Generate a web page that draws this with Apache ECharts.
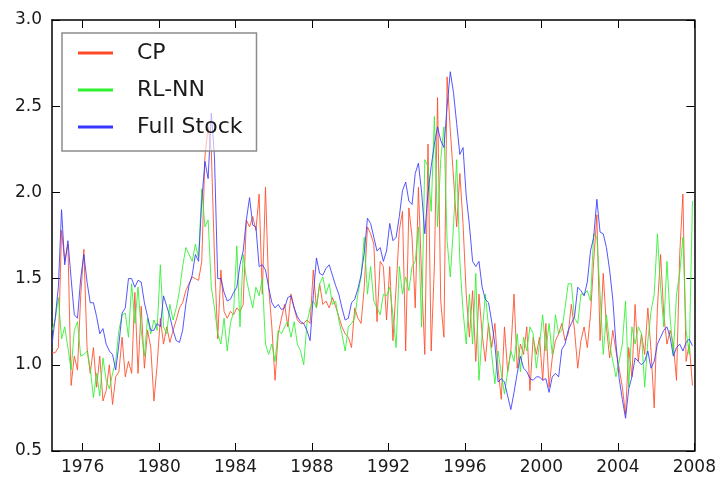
<!DOCTYPE html>
<html>
<head>
<meta charset="utf-8">
<script src="https://cdn.jsdelivr.net/npm/echarts@6/dist/echarts.min.js"></script>
<style>
  html, body { margin: 0; padding: 0; background: #fff; }
</style>
</head>
<body>
<div id="main" style="width: 719px; height: 478px;"></div>
<script>
// sampling: every two months from mid 1974
const startYear = 1974.4;
const stepYears = 1 / 6;

const yearTicks = [1976, 1980, 1984, 1988, 1992, 1996, 2000, 2004, 2008];

const cp = [
  1.07, 1.07, 1.10, 1.78, 1.60, 1.70,
  0.88, 1.05, 0.97, 1.40, 1.67, 1.10,
  0.95, 1.10, 0.87, 1.05, 0.79, 0.85,
  1.00, 0.77, 0.93, 0.96, 1.16, 0.93,
  1.02, 0.95, 1.42, 0.95, 1.34, 0.98,
  1.20, 1.10, 0.79, 1.00, 1.27, 1.12,
  1.22, 1.13, 1.20, 1.26, 1.33, 1.36,
  1.43, 1.47, 1.51, 1.50, 1.49, 1.60,
  2.21, 2.38, 2.24, 1.62, 1.15, 1.55,
  1.31, 1.27, 1.31, 1.29, 1.33, 1.31,
  1.35, 1.84, 1.80, 1.86, 1.78, 1.99,
  1.41, 2.03, 1.45, 1.22, 0.91, 1.18,
  1.27, 1.35, 1.22, 1.41, 1.33, 1.26,
  1.24, 1.24, 1.26, 1.24, 1.55, 1.33,
  1.47, 1.35, 1.37, 1.33, 1.39, 1.34,
  1.28, 1.22, 1.18, 1.16, 1.10, 1.33,
  1.27, 1.24, 1.45, 1.80, 1.76, 1.70,
  1.25, 1.60, 1.57, 1.26, 1.57, 1.14,
  1.45, 1.78, 1.89, 1.08, 1.91, 1.74,
  1.33, 2.03, 1.51, 1.06, 2.28, 1.08,
  1.57, 2.55, 1.37, 1.16, 2.67, 2.36,
  2.09, 1.80, 2.11, 1.82, 1.41, 1.16,
  1.43, 1.02, 1.41, 1.18, 1.02, 1.24,
  1.10, 1.24, 0.98, 0.80, 1.22, 0.96,
  1.08, 1.41, 0.98, 1.12, 1.06, 1.22,
  0.85, 1.16, 1.06, 1.16, 0.91, 1.24,
  0.87, 1.04, 1.14, 1.18, 1.24, 1.14,
  1.18, 1.35, 1.20, 0.98, 1.14, 1.22,
  1.10, 1.29, 1.60, 1.87, 1.14, 1.53,
  1.22, 1.04, 1.20, 1.08, 0.98, 0.87,
  0.71, 1.10, 0.93, 1.35, 1.02, 1.18,
  1.06, 1.33, 1.08, 0.75, 1.33, 1.64,
  1.29, 1.12, 1.20, 1.12, 0.91, 1.64,
  1.99, 1.02, 1.12, 0.88
];

const rlnn = [
  1.20, 1.26, 1.39, 1.15, 1.22, 1.10,
  0.97, 1.20, 1.25, 1.05, 1.06, 1.08,
  0.98, 0.81, 0.95, 0.82, 1.04, 0.91,
  0.86, 0.95, 1.02, 1.20, 1.29, 1.30,
  1.16, 1.47, 1.24, 1.45, 1.20, 1.05,
  1.27, 1.18, 1.26, 1.20, 1.58, 1.22,
  1.18, 1.35, 1.26, 1.33, 1.43, 1.57,
  1.68, 1.64, 1.60, 1.70, 1.62, 2.02,
  1.80, 1.84, 1.45, 1.33, 1.18, 1.12,
  1.27, 1.08, 1.24, 1.31, 1.69, 1.22,
  1.64, 1.50, 1.41, 1.33, 1.45, 1.40,
  1.50, 1.12, 1.06, 1.12, 1.02, 1.20,
  1.18, 1.22, 1.25, 1.16, 1.25, 1.12,
  1.08, 1.00, 1.24, 1.33, 1.37, 1.33,
  1.47, 1.51, 1.41, 1.47, 1.35, 1.37,
  1.26, 1.18, 1.08, 1.22, 1.24, 1.27,
  1.41, 1.51, 1.74, 1.41, 1.57, 1.37,
  1.33, 1.29, 1.41, 1.40, 1.45, 1.29,
  1.10, 1.57, 1.41, 1.51, 1.43, 1.57,
  1.60, 1.80, 1.22, 2.19, 2.15, 1.89,
  2.44, 1.80, 2.19, 2.38, 1.72, 1.51,
  1.80, 2.19, 1.60, 1.31, 1.12, 1.41,
  1.12, 1.53, 0.91, 1.18, 1.41, 1.22,
  1.06, 0.89, 1.08, 0.95, 0.83, 0.96,
  1.08, 1.02, 1.18, 0.96, 1.16, 1.08,
  1.22, 1.18, 0.98, 1.12, 1.29, 1.08,
  1.24, 1.06, 1.29, 1.18, 1.20, 1.33,
  1.47, 1.47, 1.27, 1.24, 1.41, 1.41,
  1.43, 1.37, 1.76, 1.74, 1.41, 1.06,
  1.29, 1.12, 1.02, 0.93, 1.02, 1.12,
  1.37, 0.87, 1.22, 1.12, 1.22, 1.18,
  0.87, 1.14, 1.31, 1.41, 1.76, 1.45,
  1.22, 1.60, 1.27, 1.06, 1.41, 1.53,
  1.74, 1.20, 1.06, 1.95
];

const fullStock = [
  1.12, 1.27, 1.45, 1.90, 1.58, 1.72,
  1.50, 1.29, 1.27, 1.50, 1.64, 1.48,
  1.36, 1.36, 1.28, 1.18, 1.21, 1.12,
  1.08, 1.06, 0.97, 1.12, 1.30, 1.33,
  1.50, 1.50, 1.45, 1.49, 1.48, 1.36,
  1.28, 1.20, 1.20, 1.24, 1.22, 1.40,
  1.34, 1.28, 1.20, 1.14, 1.13, 1.20,
  1.35, 1.46, 1.52, 1.64, 1.60, 1.95,
  2.18, 2.08, 2.46, 2.20, 1.50, 1.50,
  1.42, 1.37, 1.38, 1.42, 1.45, 1.58,
  1.66, 1.84, 1.97, 1.81, 1.80, 1.57,
  1.58, 1.55, 1.45, 1.36, 1.33, 1.35,
  1.32, 1.33, 1.39, 1.40, 1.33, 1.28,
  1.25, 1.24, 1.20, 1.14, 1.40, 1.62,
  1.53, 1.52, 1.56, 1.58, 1.52, 1.46,
  1.41, 1.33, 1.26, 1.27, 1.36, 1.38,
  1.44, 1.52, 1.65, 1.85, 1.82, 1.74,
  1.66, 1.68, 1.60, 1.66, 1.82, 1.72,
  1.74, 1.86, 2.01, 2.06, 1.95, 1.93,
  2.11, 2.17, 2.00, 1.76, 2.00, 2.15,
  2.28, 2.38, 2.30, 2.26, 2.50, 2.70,
  2.58, 2.40, 2.22, 2.26, 1.98, 1.81,
  1.60, 1.57, 1.60, 1.45, 1.38, 1.36,
  1.25, 1.12, 0.90, 0.92, 0.90, 0.82,
  0.74, 0.84, 0.95, 1.05, 0.98, 0.96,
  0.92, 0.91, 0.93, 0.93, 0.91, 0.92,
  0.84, 0.93, 0.95, 0.93, 1.09, 1.12,
  1.20, 1.24, 1.28, 1.45, 1.43, 1.40,
  1.48, 1.66, 1.74, 1.96, 1.77, 1.76,
  1.68, 1.55, 1.38, 1.12, 0.92, 0.80,
  0.69, 0.86, 0.93, 1.04, 1.02, 1.00,
  1.02, 1.08, 0.98, 1.02, 1.12, 1.16,
  1.20, 1.22, 1.16, 1.05, 1.10, 1.12,
  1.08, 1.13, 1.15, 1.11
];

function withYears(values) {
  return values.map((v, i) => [startYear + i * stepYears, v]);
}

const myChart = echarts.init(document.getElementById('main'));

const labelFont = {
  fontFamily: 'DejaVu Sans',
  fontSize: 17,
  color: '#1a1a1a'
};
const axisLine = { show: true, lineStyle: { color: '#000', width: 1.5 } };
const tick = { show: true, inside: true, length: 8, lineStyle: { color: '#000', width: 1 } };

const option = {
  animation: false,
  backgroundColor: '#fff',
  grid: { left: 52, right: 23, top: 20, bottom: 27, containLabel: false },
  legend: {
    orient: 'vertical',
    left: 62,
    top: 33,
    padding: [9, 14, 13, 16],
    itemWidth: 35,
    itemHeight: 3,
    itemGap: 15,
    icon: 'rect',
    borderColor: '#8c8c8c',
    borderWidth: 1.5,
    backgroundColor: 'rgba(255,255,255,0.6)',
    textStyle: {
      fontFamily: 'DejaVu Sans',
      fontSize: 22,
      lineHeight: 22,
      color: '#1a1a1a',
      padding: [0, 0, 0, 19]
    },
    data: ['CP', 'RL-NN', 'Full Stock']
  },
  xAxis: [
    {
      type: 'value',
      min: startYear,
      max: 2008,
      axisLine: axisLine,
      axisTick: Object.assign({}, tick, { customValues: yearTicks }),
      axisLabel: Object.assign({}, labelFont, {
        customValues: yearTicks,
        margin: 8,
        formatter: v => String(v)
      }),
      splitLine: { show: false }
    },
    {
      type: 'value',
      position: 'top',
      min: startYear,
      max: 2008,
      axisLine: axisLine,
      axisTick: Object.assign({}, tick, { customValues: yearTicks }),
      axisLabel: { show: false },
      splitLine: { show: false }
    }
  ],
  yAxis: [
    {
      type: 'value',
      min: 0.5,
      max: 3.0,
      interval: 0.5,
      axisLine: axisLine,
      axisTick: tick,
      axisLabel: Object.assign({}, labelFont, { margin: 10, formatter: v => v.toFixed(1) }),
      splitLine: { show: false }
    },
    {
      type: 'value',
      position: 'right',
      min: 0.5,
      max: 3.0,
      interval: 0.5,
      axisLine: axisLine,
      axisTick: tick,
      axisLabel: { show: false },
      splitLine: { show: false }
    }
  ],
  series: [
    {
      name: 'CP',
      type: 'line',
      data: withYears(cp),
      showSymbol: false,
      color: '#ff4a26',
      lineStyle: { width: 1, opacity: 0.85 }
    },
    {
      name: 'RL-NN',
      type: 'line',
      data: withYears(rlnn),
      showSymbol: false,
      color: '#2ef02e',
      lineStyle: { width: 1, opacity: 0.85 }
    },
    {
      name: 'Full Stock',
      type: 'line',
      data: withYears(fullStock),
      showSymbol: false,
      color: '#3838ff',
      lineStyle: { width: 1, opacity: 0.85 }
    }
  ]
};
myChart.setOption(option);
</script>
</body>
</html>
